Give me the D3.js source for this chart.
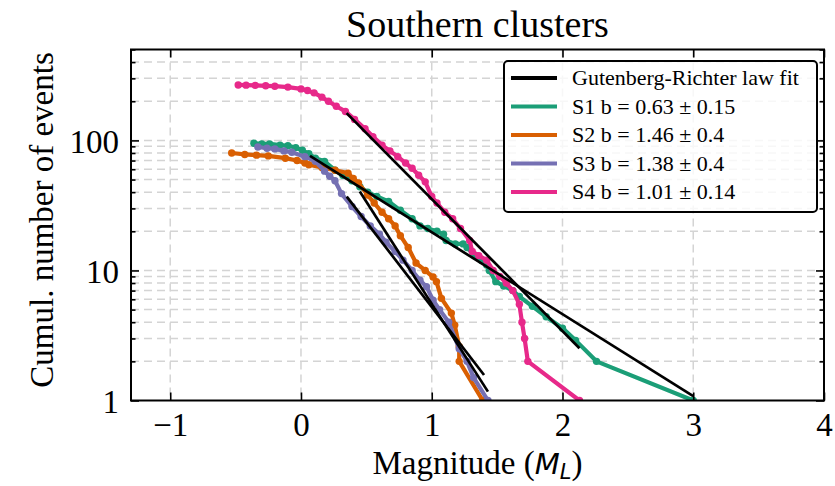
<!DOCTYPE html>
<html>
<head>
<meta charset="utf-8">
<script src="https://cdn.jsdelivr.net/npm/d3@7"></script>
<style>
  body { margin: 0; background: #fff; }
  svg { display: block; }
  text { font-family: "Liberation Serif", "Times New Roman", serif; fill: #000; }
</style>
</head>
<body>
<svg id="chart" width="835" height="486"></svg>
<script>
// ---------------- data ----------------
const title = "Southern clusters";
const xTicks = [-1, 0, 1, 2, 3, 4];
const yMajorTicks = [1, 10, 100];
const yMinorTicks = [2,3,4,5,6,7,8,9,20,30,40,50,60,70,80,90,200,300,400,500];

const seriesNames = ["S1", "S2", "S3", "S4"];
const seriesLabels = ["S1 b = 0.63 \u00B1 0.15", "S2 b = 1.46 \u00B1 0.4", "S3 b = 1.38 \u00B1 0.4", "S4 b = 1.01 \u00B1 0.14"];
const fitLabel = "Gutenberg-Richter law fit";

// cumulative number of events N(>=M): [magnitude, count]
const s1 = [[-0.36,95],[-0.30,94],[-0.24,94],[-0.16,92],[-0.10,91],[-0.04,88],[0.01,84],[0.06,79],[0.11,73],[0.18,69],
  [0.26,59],[0.32,54],[0.39,49],[0.45,44],[0.51,40],[0.58,37],[0.67,34],[0.76,29],[0.85,25],[0.91,22],[0.97,21],
  [1.04,20],[1.09,19],[1.11,17],[1.18,16],[1.24,16],[1.27,15],[1.33,13],[1.38,12],[1.42,11],[1.44,10],[1.49,8.2],
  [1.55,7.6],[1.62,7],[1.67,6.3],[1.77,5.3],[1.875,4.4],[2.0,3.6],[2.10,2.9],[2.26,2.0],[3.0,1]];
const s2 = [[-0.53,80],[-0.43,78],[-0.34,77],[-0.25,76],[-0.12,73],[-0.03,70],[0.03,67],[0.06,65],[0.16,62],[0.26,59],
  [0.36,56],[0.40,51],[0.44,47],[0.51,38],[0.56,33],[0.62,28],[0.67,25],[0.72,22],[0.76,18.5],[0.82,15],[0.88,11.4],
  [0.95,10],[1.01,8.9],[1.036,8.2],[1.074,6.1],[1.15,4.7],[1.176,3.8],[1.21,2.6],[1.21,2.0],[1.39,1]];
const s3 = [[-0.33,89],[-0.26,87],[-0.20,86],[-0.13,83],[-0.07,81],[0.03,75],[0.11,69],[0.18,58],[0.22,53],[0.26,49],
  [0.31,39],[0.39,31],[0.46,26],[0.53,22],[0.60,19],[0.65,16.5],[0.72,14],[0.78,12],[0.85,10],[0.91,8.4],[0.96,7.5],
  [1.01,5.9],[1.06,5],[1.13,4],[1.21,2.5],[1.27,2],[1.32,1.5],[1.43,1]];
const s4 = [[-0.48,267],[-0.42,266],[-0.35,265],[-0.27,263],[-0.20,261],[-0.10,257],[0.00,249],[0.05,242],[0.10,232],
  [0.16,215],[0.21,200],[0.27,183],[0.34,167],[0.41,145],[0.49,123],[0.55,107],[0.62,92],[0.68,83],[0.74,75],[0.80,67],
  [0.85,61],[0.90,54],[0.95,48],[1.00,37],[1.04,33],[1.10,28],[1.16,25],[1.22,21],[1.29,17],[1.31,14],[1.36,13],
  [1.42,12],[1.47,10],[1.52,9],[1.57,8],[1.62,7],[1.67,5.5],[1.69,4],[1.71,3],[1.735,2],[2.13,1]];

// Gutenberg-Richter fit segments: [magnitude, count] at both ends
const fit1 = [[0.069,76],[3.0,1.08]];
const fit2 = [[0.45,40.4],[1.43,1.17]];
const fit3 = [[0.35,37],[1.40,1.57]];
const fit4 = [[0.349,162],[2.13,2.52]];

const colors = ["#1b9e77", "#d95f02", "#7570b3", "#e7298a"];

// ---------------- drawing ----------------
const svg = d3.select("#chart");
const W = 835, H = 486;
const plot = {left: 131, right: 824, top: 49.5, bottom: 400.5};

const x = d3.scaleLinear().domain([-1.3, 4]).range([plot.left, plot.right]);
const y = d3.scaleLog().domain([1, 500]).range([plot.bottom, plot.top]);

// grid
const grid = svg.append("g").attr("stroke", "#d4d4d4").attr("stroke-width", 1.5)
  .attr("stroke-dasharray", "8,5").attr("fill", "none");
grid.selectAll("line.v").data(xTicks.filter(t => x(t) > plot.left + 1 && x(t) < plot.right - 1)).join("line")
  .attr("x1", d => x(d)).attr("x2", d => x(d)).attr("y1", plot.top).attr("y2", plot.bottom);
grid.selectAll("line.h").data(yMajorTicks.concat(yMinorTicks).filter(t => y(t) < plot.bottom - 1 && y(t) > plot.top + 1)).join("line")
  .attr("x1", plot.left).attr("x2", plot.right).attr("y1", d => y(d)).attr("y2", d => y(d));

// clip
svg.append("clipPath").attr("id", "clip").append("rect")
  .attr("x", plot.left).attr("y", plot.top).attr("width", plot.right - plot.left).attr("height", plot.bottom - plot.top);

const line = d3.line().x(d => x(d[0])).y(d => y(d[1]));
const dataG = svg.append("g").attr("clip-path", "url(#clip)");
const allSeries = [s1, s2, s3, s4];
allSeries.forEach((s, i) => {
  dataG.append("path").datum(s).attr("d", line).attr("fill", "none")
    .attr("stroke", colors[i]).attr("stroke-width", 4.2).attr("stroke-linejoin", "round");
  dataG.selectAll(null).data(s).join("circle")
    .attr("cx", d => x(d[0])).attr("cy", d => y(d[1])).attr("r", 3.7).attr("fill", colors[i]);
});
[fit1, fit2, fit3, fit4].forEach(f => {
  dataG.append("path").datum(f).attr("d", line).attr("fill", "none")
    .attr("stroke", "#000").attr("stroke-width", 2.7);
});

// axes (inward ticks on all sides)
const fs = 33;
const axB = svg.append("g").attr("transform", `translate(0,${plot.bottom})`)
  .call(d3.axisBottom(x).tickValues(xTicks).tickSize(-8).tickPadding(10)
    .tickFormat(d => d < 0 ? "\u2212" + Math.abs(d) : String(d)));
const axT = svg.append("g").attr("transform", `translate(0,${plot.top})`)
  .call(d3.axisTop(x).tickValues(xTicks).tickSize(-8).tickFormat(""));
const axL = svg.append("g").attr("transform", `translate(${plot.left},0)`)
  .call(d3.axisLeft(y).tickValues(yMajorTicks).tickSize(-8).tickPadding(12).tickFormat(d3.format("d")));
const axLm = svg.append("g").attr("transform", `translate(${plot.left},0)`)
  .call(d3.axisLeft(y).tickValues(yMinorTicks).tickSize(-4.5).tickFormat(""));
const axR = svg.append("g").attr("transform", `translate(${plot.right},0)`)
  .call(d3.axisRight(y).tickValues(yMajorTicks).tickSize(-8).tickFormat(""));
const axRm = svg.append("g").attr("transform", `translate(${plot.right},0)`)
  .call(d3.axisRight(y).tickValues(yMinorTicks).tickSize(-4.5).tickFormat(""));
[axB, axT, axL, axLm, axR, axRm].forEach(a => {
  a.select(".domain").remove();
  a.selectAll(".tick line").attr("stroke", "#000").attr("stroke-width", 1.6);
  a.selectAll(".tick text").attr("font-family", "Liberation Serif, serif").attr("font-size", fs).attr("fill", "#000");
});
axB.selectAll(".tick text").attr("dy", "0.78em");
axL.selectAll(".tick text").attr("dy", "0.36em");

// frame
svg.append("rect").attr("x", plot.left).attr("y", plot.top)
  .attr("width", plot.right - plot.left).attr("height", plot.bottom - plot.top)
  .attr("fill", "none").attr("stroke", "#000").attr("stroke-width", 2);

// title & labels
svg.append("text").attr("x", (plot.left + plot.right) / 2).attr("y", 37)
  .attr("text-anchor", "middle").attr("font-size", 38).text(title);

const xl = svg.append("text").attr("x", (plot.left + plot.right) / 2).attr("y", 474)
  .attr("text-anchor", "middle").attr("font-size", fs);
xl.append("tspan").text("Magnitude (");
xl.append("tspan").attr("font-family", "DejaVu Sans").attr("font-style", "italic").attr("font-size", fs - 4).text("M");
xl.append("tspan").attr("font-family", "DejaVu Sans").attr("font-style", "italic").attr("font-size", fs - 12).attr("dy", 5).text("L");
xl.append("tspan").attr("dy", -5).text(")");

svg.append("text").attr("transform", `translate(53,${(plot.top + plot.bottom) / 2 - 5}) rotate(-90)`)
  .attr("text-anchor", "middle").attr("font-size", fs).text("Cumul. number of events");

// legend
const leg = svg.append("g").attr("transform", "translate(504,61)");
leg.append("rect").attr("x", 0).attr("y", 0).attr("width", 313).attr("height", 151).attr("rx", 4)
  .attr("fill", "#fff").attr("fill-opacity", 0.82).attr("stroke", "#000").attr("stroke-width", 2);
const legItems = [{label: fitLabel, color: "#000"}].concat(seriesLabels.map((l, i) => ({label: l, color: colors[i]})));
legItems.forEach((it, i) => {
  const yy = 17 + i * 28.5;
  leg.append("line").attr("x1", 7).attr("x2", 53).attr("y1", yy).attr("y2", yy)
    .attr("stroke", it.color).attr("stroke-width", 3.8);
  leg.append("text").attr("x", 68).attr("y", yy).attr("dy", "0.34em").attr("font-size", 22).text(it.label);
});
</script>
</body>
</html>
